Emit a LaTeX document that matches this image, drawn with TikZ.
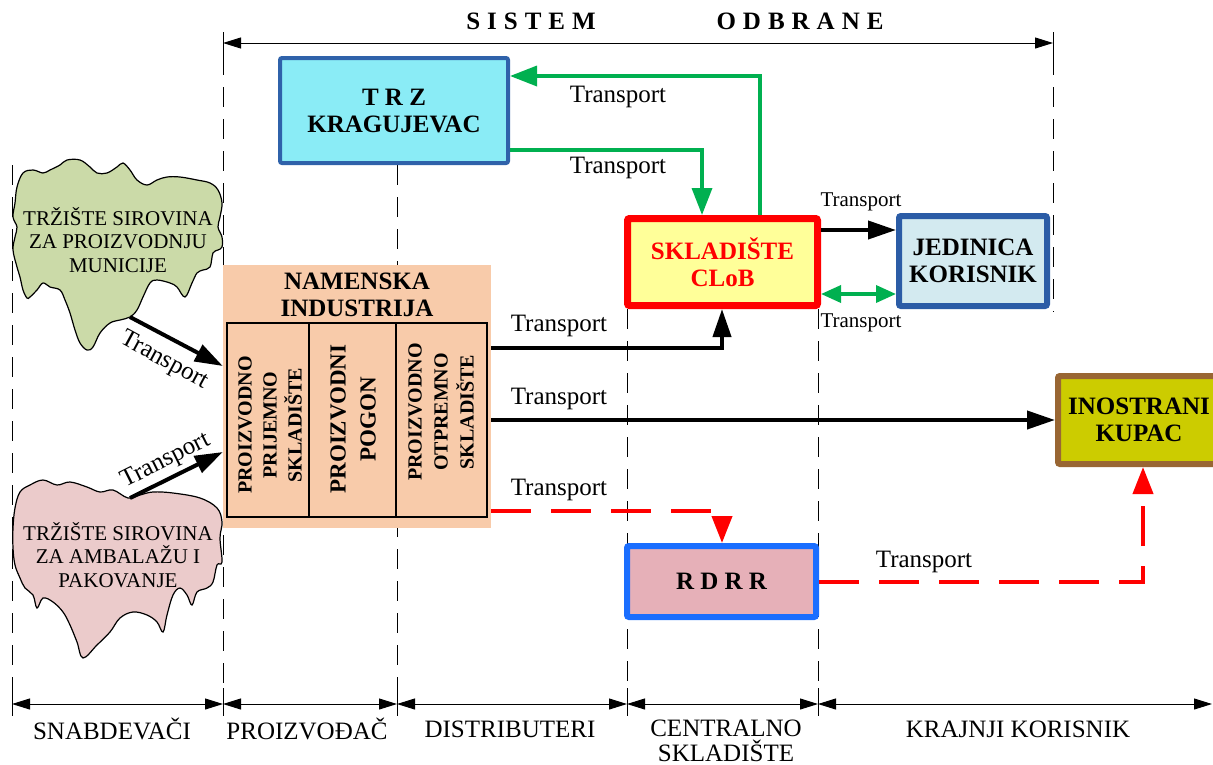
\documentclass[tikz,border=0pt]{standalone}
\usepackage{fontspec}
\setmainfont{Liberation Serif}
\usetikzlibrary{arrows.meta,calc}
\definecolor{trzf}{HTML}{8AECF6}
\definecolor{trzb}{HTML}{2F62AA}
\definecolor{skf}{HTML}{FFFF99}
\definecolor{jedf}{HTML}{D3EAF0}
\definecolor{jedb}{HTML}{2B5CA6}
\definecolor{inof}{HTML}{CCCC00}
\definecolor{inob}{HTML}{996633}
\definecolor{rdf}{HTML}{E6B0B8}
\definecolor{rdb}{HTML}{1A6EFF}
\definecolor{namf}{HTML}{F8CBAA}
\definecolor{cgreen}{HTML}{CBDAA8}
\definecolor{cpink}{HTML}{EBCBCB}
\definecolor{mygreen}{HTML}{00B050}
\newcommand{\wide}[1]{{\spaceskip=7pt plus 0pt minus 0pt\relax #1}}
\begin{document}
\begin{tikzpicture}[x=1pt,y=-1pt]
\tikzset{
  dashv/.style={line width=0.9pt, dash pattern=on 20pt off 12pt},
  tick/.style={line width=1pt},
  dim/.style={line width=1pt, {Triangle[length=18pt,width=11pt]}-{Triangle[length=18pt,width=11pt]}},
  arr/.style={line width=4pt, -{Triangle[length=28pt,width=18pt]}},
  grn/.style={draw=mygreen, line width=3.5pt, -{Triangle[length=27pt,width=20pt]}},
  grnboth/.style={draw=mygreen, line width=3.5pt, {Triangle[length=20pt,width=17pt]}-{Triangle[length=20pt,width=17pt]}},
  reddash/.style={draw=red, line width=4pt, dash pattern=on 40pt off 20pt, -{Triangle[length=27pt,width=20pt]}},
  lbl/.style={font=\fontsize{25}{27}\selectfont, inner sep=0pt},
  slbl/.style={font=\fontsize{21}{23}\selectfont, inner sep=0pt},
  box/.style={rectangle, rounded corners=2pt, align=center, inner sep=0pt,
    font=\bfseries\fontsize{25}{27}\selectfont},
  cloudtxt/.style={align=center, inner sep=0pt, font=\fontsize{21}{23.5}\selectfont},
  vtxt/.style={rotate=90, align=center, inner sep=0pt},
  hdr/.style={inner sep=0pt, font=\bfseries\fontsize{25}{27}\selectfont},
}
\useasboundingbox (0,0) rectangle (1213,764);

% ---------- dashed vertical section lines ----------
\draw[dashv] (12,165) -- (12,690);
\draw[dashv] (223,55) -- (223,690);
\draw[dashv] (397,165) -- (397,690);
\draw[dashv] (627,309) -- (627,690);
\draw[dashv] (818,309) -- (818,690);
\draw[dashv] (1053,55) -- (1053,312);

% ---------- top dimension ----------
\coordinate (t1) at (223,43);
\coordinate (t2) at (1053,43);
\draw[tick] (223,32) -- (223,55);
\draw[tick] (1053,32) -- (1053,55);
\draw[dim] (t1) -- (t2);
\node[hdr] (h1) at (531,21) {\wide{S I S T E M}};
\node[hdr] (h2) at (800,21) {\wide{O D B R A N E}};

% ---------- bottom dimension ----------
\coordinate (d0) at (12,704);
\coordinate (d1) at (223,704);
\coordinate (d2) at (397,704);
\coordinate (d3) at (627,704);
\coordinate (d4) at (818,704);
\coordinate (d5) at (1212,704);
\foreach \x in {12,223,397,627,818} { \draw[tick] (\x,688) -- (\x,716); }
\draw[dim] (d0) -- (d1);
\draw[dim] (d1) -- (d2);
\draw[dim] (d2) -- (d3);
\draw[dim] (d3) -- (d4);
\draw[dim] (d4) -- (d5);
\node[lbl] (b1) at (112,729) {SNABDEVAČI};
\node[lbl] (b2) at (307,729) {PROIZVOĐAČ};
\node[lbl] (b3) at (510,729) {DISTRIBUTERI};
\node[lbl] (b4) at (726,728) {CENTRALNO};
\node[lbl] (b4b) at (726,751) {SKLADIŠTE};
\node[lbl] (b5) at (1018,729) {KRAJNJI KORISNIK};

% ---------- clouds ----------
\draw[fill=cgreen, line width=1.2pt] plot[smooth cycle, tension=0.6] coordinates {
(17,187) (23,173) (33,170) (43,173) (50,170) (60,165) (67,160) (80,160) (90,167) (97,173)
(107,173) (117,167) (123,163) (130,170) (137,180) (147,185) (157,180) (167,177) (180,177)
(197,180) (210,183) (218,190) (222,203) (220,217) (218,227) (222,237) (222,247) (218,250)
(213,253) (210,267) (203,270) (197,273) (192,283) (185,297) (177,287) (170,283) (157,280)
(150,283) (143,297) (137,310) (130,317) (120,320) (110,323) (100,333) (93,347) (87,350)
(80,343) (75,330) (70,313) (65,300) (60,290) (50,287) (43,283) (37,290) (30,297) (27,298)
(23,290) (20,277) (17,267) (13,250) (15,237) (17,227) (13,217) (15,203)};
\node[cloudtxt] (cl1) at (118,240) {TRŽIŠTE SIROVINA\\ZA PROIZVODNJU\\MUNICIJE};

\draw[fill=cpink, line width=1.2pt] plot[smooth cycle, tension=0.6] coordinates {
(15,508) (20,492) (30,485) (43,480) (57,485) (70,482) (87,487) (100,492) (113,490) (128,498)
(140,495) (153,492) (173,493) (200,498) (217,508) (222,522) (220,538) (222,562) (217,565)
(213,582) (207,588) (197,592) (192,605) (187,595) (180,588) (173,595) (167,615) (163,632)
(157,622) (147,615) (133,612) (120,618) (110,632) (97,645) (83,658) (77,642) (70,625)
(63,612) (53,602) (43,598) (37,608) (33,595) (25,588) (20,578) (15,565) (13,548) (13,528)};
\node[cloudtxt] (cl2) at (118,555) {TRŽIŠTE SIROVINA\\ZA AMBALAŽU I\\PAKOVANJE};

% ---------- boxes ----------
\node[box, draw=trzb, fill=trzf, line width=4pt, minimum width=228pt, minimum height=105pt]
  (trz) at (394,110.5) {T R Z\\KRAGUJEVAC};
\node[box, draw=red, fill=skf, text=red, line width=7pt, minimum width=190pt, minimum height=87pt]
  (sk) at (722.5,262) {SKLADIŠTE\\CLoB};
\node[box, draw=jedb, fill=jedf, line width=6pt, minimum width=148pt, minimum height=90pt]
  (jed) at (973,261) {JEDINICA\\KORISNIK};
\node[box, draw=inob, fill=inof, line width=6pt, minimum width=162pt, minimum height=88pt]
  (ino) at (1139,420) {INOSTRANI\\KUPAC};
\node[box, draw=rdb, fill=rdf, line width=6pt, minimum width=189pt, minimum height=71pt]
  (rd) at (721.5,581.5) {R D R R};

% namenska industrija
\node[fill=namf, inner sep=0pt, minimum width=268pt, minimum height=263pt] (nam) at (357,396.5) {};
\node[box] (namt) at (357,295) {NAMENSKA\\INDUSTRIJA};
\node[draw, line width=1.2pt, inner sep=0pt, minimum width=260pt, minimum height=194pt] (inner) at (357,420) {};
\coordinate (v1) at (309,0);
\coordinate (v2) at (396,0);
\draw[line width=1.2pt] (inner.north -| v1) -- (inner.south -| v1);
\draw[line width=1.2pt] (inner.north -| v2) -- (inner.south -| v2);
\node[vtxt, font=\bfseries\fontsize{20}{25}\selectfont] (c1) at (270,425) {PROIZVODNO\\PRIJEMNO\\SKLADIŠTE};
\node[vtxt, font=\bfseries\fontsize{23}{30}\selectfont] (c2) at (353,419) {PROIZVODNI\\POGON};
\node[vtxt, font=\bfseries\fontsize{20}{26}\selectfont] (c3) at (441,412) {PROIZVODNO\\OTPREMNO\\SKLADIŠTE};

% ---------- connectors ----------
\coordinate (g1) at (760,76);
\coordinate (g2) at (702,150);
\coordinate (g3) at (0,294);
\coordinate (k1) at (0,230);
\coordinate (k2) at (722,348);
\coordinate (k3) at (0,420);
\coordinate (r1) at (722,511);
\coordinate (r2) at (1143,582);
\coordinate (c1t) at (130,317);
\coordinate (c1y) at (0,366);
\coordinate (c2t) at (130,498);
\coordinate (c2y) at (0,452);

\draw[grn] (sk.north -| g1) |- (trz.east |- g1);
\draw[grn] (trz.east |- g2) -| (sk.north -| g2);
\draw[arr] (sk.east |- k1) -- (jed.west |- k1);
\draw[grnboth] (sk.east |- g3) -- (jed.west |- g3);
\draw[arr] (nam.east |- k2) -| (sk.south -| k2);
\draw[arr] (nam.east |- k3) -- (ino.west |- k3);
\draw[reddash] (nam.east |- r1) -| (rd.north -| r1);
\draw[reddash] (rd.east |- r2) -| (ino.south -| r2);
\draw[arr] (c1t) -- (nam.west |- c1y);
\draw[arr] (c2t) -- (nam.west |- c2y);

% ---------- labels ----------
\node[lbl] (l1) at (618,97) {Transport};
\node[lbl] (l2) at (618,168) {Transport};
\node[slbl] (l3) at (861,202) {Transport};
\node[slbl] (l4) at (861,323) {Transport};
\node[lbl] (l5) at (559,326) {Transport};
\node[lbl] (l6) at (559,399) {Transport};
\node[lbl] (l7) at (559,490) {Transport};
\node[lbl] (l8) at (924,562) {Transport};
\node[lbl, rotate=-28.5] (l9) at (164,361) {Transport};
\node[lbl, rotate=26.6] (l10) at (166,461) {Transport};
\end{tikzpicture}
\end{document}
